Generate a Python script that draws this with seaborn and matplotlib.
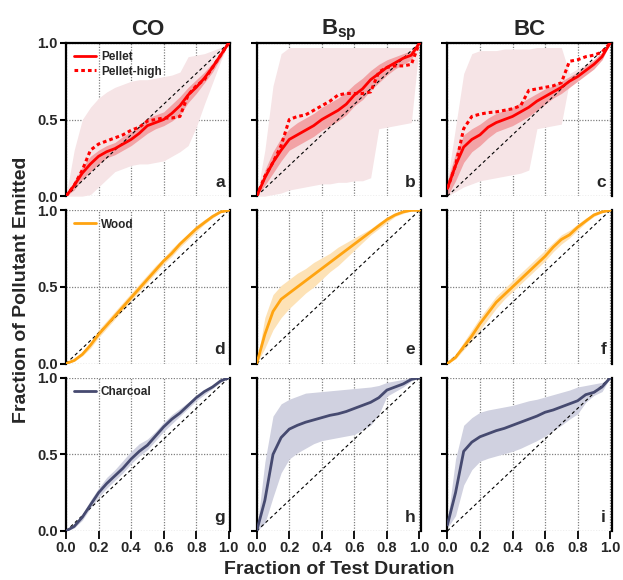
#Fraccion acumulada de contaminante emitido vs fraccion de la prueba

import numpy as np
import seaborn as sns
import matplotlib.pyplot as plt

# eje x comun
frac = [0, 0.05, 0.1, 0.15, 0.2, 0.25, 0.3, 0.35, 0.4, 0.45, 0.5,
        0.55, 0.6, 0.65, 0.7, 0.75, 0.8, 0.85, 0.9, 0.95, 1.0]

# ---- Pellet (fila 1) ----
co_pellet = [0, 0.07, 0.15, 0.21, 0.26, 0.29, 0.31, 0.34, 0.37, 0.41, 0.46,
             0.48, 0.50, 0.54, 0.59, 0.66, 0.71, 0.77, 0.84, 0.92, 1.0]
co_pellet_high = [0, 0.07, 0.17, 0.30, 0.34, 0.36, 0.38, 0.40, 0.43, 0.45, 0.49,
                  0.50, 0.51, 0.51, 0.52, 0.66, 0.72, 0.76, 0.84, 0.92, 1.0]
co_pellet_lo = [0, 0.04, 0.11, 0.16, 0.21, 0.25, 0.27, 0.30, 0.33, 0.37, 0.41,
                0.44, 0.46, 0.49, 0.53, 0.61, 0.67, 0.74, 0.81, 0.90, 1.0]
co_pellet_hi = [0, 0.10, 0.19, 0.26, 0.30, 0.33, 0.35, 0.39, 0.42, 0.46, 0.51,
                0.53, 0.55, 0.60, 0.65, 0.71, 0.76, 0.81, 0.87, 0.94, 1.0]
co_pellet_min = [0, 0.0, 0.0, 0.01, 0.06, 0.11, 0.16, 0.18, 0.20, 0.21, 0.21,
                 0.22, 0.23, 0.26, 0.29, 0.33, 0.45, 0.60, 0.74, 0.88, 1.0]
co_pellet_max = [0, 0.30, 0.50, 0.58, 0.64, 0.68, 0.71, 0.73, 0.75, 0.76, 0.76,
                 0.77, 0.78, 0.79, 0.81, 0.91, 0.92, 0.93, 0.95, 0.97, 1.0]

bsp_pellet = [0, 0.12, 0.22, 0.30, 0.37, 0.40, 0.43, 0.46, 0.50, 0.53, 0.56,
              0.60, 0.66, 0.70, 0.76, 0.80, 0.84, 0.87, 0.90, 0.92, 1.0]
bsp_pellet_high = [0, 0.13, 0.22, 0.33, 0.50, 0.52, 0.53, 0.56, 0.59, 0.62, 0.66,
                   0.67, 0.67, 0.67, 0.68, 0.81, 0.84, 0.85, 0.85, 0.86, 1.0]
bsp_pellet_lo = [0, 0.07, 0.15, 0.23, 0.30, 0.33, 0.36, 0.39, 0.43, 0.46, 0.49,
                 0.53, 0.59, 0.63, 0.69, 0.74, 0.79, 0.83, 0.86, 0.89, 1.0]
bsp_pellet_hi = [0, 0.17, 0.29, 0.38, 0.44, 0.48, 0.51, 0.54, 0.58, 0.61, 0.64,
                 0.68, 0.73, 0.77, 0.82, 0.86, 0.89, 0.91, 0.93, 0.95, 1.0]
bsp_pellet_min = [0, 0.0, 0.01, 0.02, 0.04, 0.05, 0.06, 0.07, 0.08, 0.08, 0.09,
                  0.09, 0.10, 0.10, 0.12, 0.44, 0.45, 0.46, 0.47, 0.48, 1.0]
bsp_pellet_max = [0, 0.30, 0.72, 0.93, 0.97, 0.97, 0.97, 0.97, 0.97, 0.97, 0.97,
                  0.97, 0.97, 0.97, 0.97, 0.97, 0.97, 0.97, 0.97, 0.97, 1.0]

bc_pellet = [0.05, 0.20, 0.32, 0.37, 0.40, 0.45, 0.48, 0.50, 0.52, 0.55, 0.58,
             0.62, 0.65, 0.68, 0.71, 0.75, 0.78, 0.82, 0.86, 0.91, 1.0]
bc_pellet_high = [0.05, 0.20, 0.44, 0.52, 0.535, 0.545, 0.55, 0.56, 0.57, 0.59, 0.69,
                  0.70, 0.71, 0.72, 0.74, 0.88, 0.89, 0.91, 0.92, 0.94, 1.0]
bc_pellet_lo = [0.0, 0.10, 0.22, 0.29, 0.33, 0.38, 0.42, 0.44, 0.46, 0.49, 0.52,
                0.56, 0.60, 0.64, 0.67, 0.71, 0.75, 0.79, 0.83, 0.89, 1.0]
bc_pellet_hi = [0.10, 0.28, 0.40, 0.44, 0.47, 0.51, 0.54, 0.56, 0.58, 0.61, 0.64,
                0.67, 0.70, 0.72, 0.75, 0.78, 0.81, 0.85, 0.89, 0.94, 1.0]
bc_pellet_min = [0.0, 0.03, 0.06, 0.08, 0.10, 0.11, 0.12, 0.13, 0.14, 0.15, 0.17,
                 0.44, 0.45, 0.46, 0.47, 0.75, 0.79, 0.83, 0.86, 0.89, 1.0]
bc_pellet_max = [0.10, 0.45, 0.80, 0.93, 0.95, 0.95, 0.95, 0.96, 0.96, 0.96, 0.96,
                 0.97, 0.97, 0.97, 0.97, 0.80, 0.83, 0.86, 0.89, 0.94, 1.0]

# ---- Wood (fila 2) ----
co_wood = [0, 0.02, 0.06, 0.12, 0.19, 0.25, 0.31, 0.37, 0.43, 0.49, 0.55,
           0.61, 0.67, 0.72, 0.78, 0.83, 0.88, 0.92, 0.96, 0.99, 1.0]
co_wood_lo = [0, 0.015, 0.05, 0.10, 0.17, 0.23, 0.29, 0.35, 0.41, 0.47, 0.53,
              0.59, 0.65, 0.70, 0.76, 0.81, 0.86, 0.91, 0.95, 0.985, 1.0]
co_wood_hi = [0, 0.03, 0.07, 0.14, 0.22, 0.28, 0.34, 0.40, 0.46, 0.52, 0.58,
              0.64, 0.69, 0.75, 0.80, 0.85, 0.90, 0.94, 0.97, 0.995, 1.0]

bsp_wood = [0, 0.19, 0.34, 0.42, 0.46, 0.50, 0.54, 0.58, 0.62, 0.66, 0.70,
            0.74, 0.78, 0.82, 0.86, 0.90, 0.94, 0.97, 0.99, 1.0, 1.0]
bsp_wood_lo = [0, 0.10, 0.22, 0.30, 0.36, 0.41, 0.46, 0.50, 0.55, 0.60, 0.64,
               0.69, 0.74, 0.79, 0.84, 0.88, 0.92, 0.96, 0.98, 1.0, 1.0]
bsp_wood_hi = [0, 0.30, 0.45, 0.51, 0.55, 0.59, 0.62, 0.66, 0.69, 0.72, 0.76,
               0.79, 0.82, 0.85, 0.88, 0.92, 0.95, 0.98, 1.0, 1.0, 1.0]

bc_wood = [0, 0.04, 0.11, 0.18, 0.26, 0.33, 0.40, 0.45, 0.50, 0.55, 0.60,
           0.65, 0.70, 0.76, 0.81, 0.84, 0.89, 0.93, 0.97, 0.99, 1.0]
bc_wood_lo = [0, 0.03, 0.09, 0.15, 0.22, 0.29, 0.36, 0.42, 0.47, 0.52, 0.57,
              0.62, 0.67, 0.73, 0.78, 0.82, 0.87, 0.92, 0.96, 0.985, 1.0]
bc_wood_hi = [0, 0.06, 0.14, 0.22, 0.30, 0.37, 0.44, 0.49, 0.54, 0.59, 0.64,
              0.69, 0.74, 0.79, 0.84, 0.87, 0.91, 0.95, 0.98, 0.995, 1.0]

# ---- Charcoal (fila 3) ----
co_charcoal = [0, 0.03, 0.09, 0.17, 0.25, 0.31, 0.36, 0.41, 0.47, 0.52, 0.56,
               0.62, 0.68, 0.73, 0.77, 0.82, 0.87, 0.91, 0.94, 0.98, 1.0]
co_charcoal_lo = [0, 0.02, 0.07, 0.15, 0.22, 0.28, 0.33, 0.38, 0.44, 0.49, 0.53,
                  0.59, 0.65, 0.70, 0.75, 0.80, 0.85, 0.89, 0.93, 0.97, 1.0]
co_charcoal_hi = [0, 0.04, 0.11, 0.20, 0.28, 0.35, 0.40, 0.46, 0.52, 0.57, 0.60,
                  0.65, 0.71, 0.76, 0.80, 0.84, 0.88, 0.92, 0.95, 0.985, 1.0]

bsp_charcoal = [0, 0.20, 0.50, 0.61, 0.665, 0.69, 0.71, 0.725, 0.74, 0.755, 0.765,
                0.78, 0.80, 0.82, 0.84, 0.87, 0.92, 0.94, 0.96, 0.99, 1.0]
bsp_charcoal_lo = [0, 0.05, 0.22, 0.38, 0.47, 0.51, 0.54, 0.57, 0.59, 0.60, 0.61,
                   0.62, 0.63, 0.66, 0.69, 0.76, 0.88, 0.91, 0.94, 0.98, 1.0]
bsp_charcoal_hi = [0, 0.45, 0.75, 0.83, 0.86, 0.88, 0.90, 0.905, 0.91, 0.915, 0.92,
                   0.925, 0.93, 0.935, 0.94, 0.95, 0.97, 0.98, 0.99, 1.0, 1.0]

bc_charcoal = [0.04, 0.25, 0.52, 0.58, 0.615, 0.635, 0.655, 0.67, 0.69, 0.71, 0.73,
               0.75, 0.775, 0.79, 0.81, 0.83, 0.85, 0.89, 0.905, 0.94, 1.0]
bc_charcoal_lo = [0.02, 0.10, 0.30, 0.40, 0.455, 0.475, 0.49, 0.505, 0.52, 0.54, 0.565,
                  0.59, 0.62, 0.655, 0.69, 0.73, 0.765, 0.84, 0.885, 0.91, 1.0]
bc_charcoal_hi = [0.06, 0.47, 0.69, 0.74, 0.775, 0.79, 0.80, 0.81, 0.82, 0.835, 0.85,
                  0.86, 0.875, 0.89, 0.905, 0.92, 0.94, 0.95, 0.96, 0.97, 1.0]

col_titles = ["CO", "B$_{\\mathbf{sp}}$", "BC"]
panel_letters = ["a", "b", "c", "d", "e", "f", "g", "h", "i"]

red = "#ff0000"
orange = "#ffa411"
navy = "#464a70"

sns.set_theme(style="white")
plt.rcParams["font.family"] = ["Liberation Sans", "DejaVu Sans"]
plt.rcParams["font.weight"] = "bold"
plt.rcParams["mathtext.fontset"] = "custom"
plt.rcParams["mathtext.bf"] = "Liberation Sans:bold"
plt.rcParams["mathtext.rm"] = "Liberation Sans:bold"

fig, axes = plt.subplots(3, 3, figsize=(6.23, 5.8), dpi=100)
fig.subplots_adjust(left=0.106, right=0.982, top=0.926, bottom=0.0845,
                    wspace=0.16, hspace=0.093)

pellet = [(co_pellet, co_pellet_high, co_pellet_lo, co_pellet_hi, co_pellet_min, co_pellet_max),
          (bsp_pellet, bsp_pellet_high, bsp_pellet_lo, bsp_pellet_hi, bsp_pellet_min, bsp_pellet_max),
          (bc_pellet, bc_pellet_high, bc_pellet_lo, bc_pellet_hi, bc_pellet_min, bc_pellet_max)]
wood = [(co_wood, co_wood_lo, co_wood_hi),
        (bsp_wood, bsp_wood_lo, bsp_wood_hi),
        (bc_wood, bc_wood_lo, bc_wood_hi)]
charcoal = [(co_charcoal, co_charcoal_lo, co_charcoal_hi),
            (bsp_charcoal, bsp_charcoal_lo, bsp_charcoal_hi),
            (bc_charcoal, bc_charcoal_lo, bc_charcoal_hi)]

for j in range(3):
    # fila 1: pellet
    ax = axes[0, j]
    mid, high, lo, hi, mn, mx = pellet[j]
    ax.fill_between(frac, mn, mx, color="#f6e4e6", lw=0, zorder=1)
    ax.fill_between(frac, lo, hi, color="#f2a3a6", lw=0, zorder=2)
    sns.lineplot(x=frac, y=mid, ax=ax, color=red, lw=2, label="Pellet", zorder=4)
    sns.lineplot(x=frac, y=high, ax=ax, color=red, lw=2.2, ls=(0, (1.2, 1.0)),
                 label="Pellet-high", zorder=4)
    # fila 2: wood
    ax = axes[1, j]
    mid, lo, hi = wood[j]
    ax.fill_between(frac, lo, hi, color="#fde2b6", lw=0, zorder=2)
    sns.lineplot(x=frac, y=mid, ax=ax, color=orange, lw=2, label="Wood", zorder=4)
    # fila 3: charcoal
    ax = axes[2, j]
    mid, lo, hi = charcoal[j]
    ax.fill_between(frac, lo, hi, color="#d0d1e0", lw=0, zorder=2)
    sns.lineplot(x=frac, y=mid, ax=ax, color=navy, lw=2, label="Charcoal", zorder=4)

for i in range(3):
    for j in range(3):
        ax = axes[i, j]
        ax.plot([0, 1], [0, 1], color="black", lw=0.8, ls=(0, (3, 2.5)), zorder=3)
        ax.set_xlim(0, 1.01)
        ax.set_ylim(0, 1.0)
        ax.set_xticks([0, 0.2, 0.4, 0.6, 0.8, 1.0])
        ax.set_yticks([0, 0.5, 1.0])
        ax.grid(True, color="#808080", ls=(0, (1, 1.2)), lw=0.9)
        ax.set_axisbelow(True)
        ax.set_xlabel("")
        ax.set_ylabel("")
        for s in ["left", "right"]:
            ax.spines[s].set_color("black")
            ax.spines[s].set_linewidth(1.6)
        ax.spines["top"].set_visible(i == 0)
        ax.spines["top"].set_color("black")
        ax.spines["top"].set_linewidth(1.6)
        ax.spines["bottom"].set_visible(False)
        ax.tick_params(axis="y", left=True, length=4, width=1.5, color="black",
                       labelsize=10.5, pad=2, labelleft=(j == 0))
        ax.tick_params(axis="x", bottom=(i == 2), length=5.5, width=1.3, color="black",
                       labelsize=10.5, pad=2, labelbottom=(i == 2))
        for lab in ax.get_xticklabels() + ax.get_yticklabels():
            lab.set_fontweight("bold")
        ax.text(0.965, 0.04, panel_letters[i * 3 + j], transform=ax.transAxes,
                ha="right", va="bottom", fontsize=12.5, fontweight="bold", zorder=6)
        if j == 0:
            ax.legend(loc="upper left", frameon=False,
                      prop={"weight": "bold", "size": 8.5}, handlelength=1.8,
                      handletextpad=0.45, borderaxespad=0.3, labelspacing=0.2)
        elif ax.get_legend() is not None:
            ax.get_legend().remove()
    axes[0, i].set_title(col_titles[i], fontsize=16, fontweight="bold", pad=6)

fig.text(0.035, 0.5, "Fraction of Pollutant Emitted", rotation=90, ha="center",
         va="center", fontsize=14, fontweight="bold")
fig.text(0.545, 0.018, "Fraction of Test Duration", ha="center", va="center",
         fontsize=14, fontweight="bold")

plt.savefig("out.png", dpi=100)
